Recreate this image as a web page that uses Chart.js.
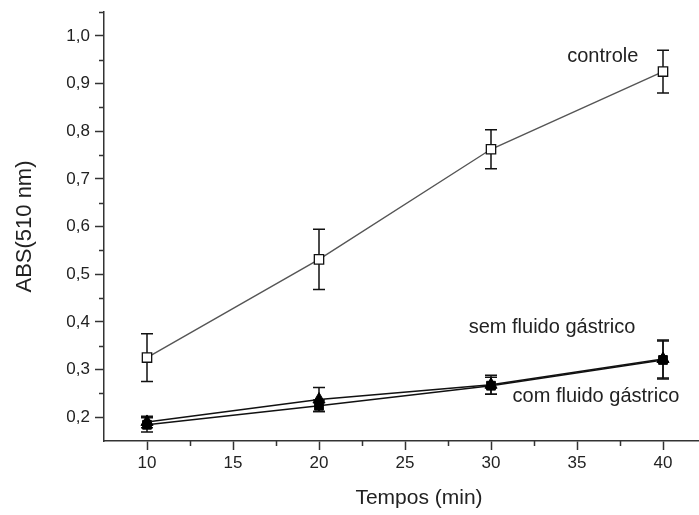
<!DOCTYPE html>
<html>
<head>
<meta charset="utf-8">
<script src="https://cdn.jsdelivr.net/npm/chart.js@4"></script>
<style>
  html, body { margin: 0; padding: 0; background: #fff; overflow: hidden; }
  #wrap { width: 699px; height: 515px; overflow: hidden; }
</style>
</head>
<body>
<div id="wrap"><canvas id="myChart" width="720" height="515"></canvas></div>
<script>
// data
var tempos = [10, 20, 30, 40];
var controle = [0.325, 0.531, 0.762, 0.925];
var controleErr = [0.050, 0.063, 0.041, 0.045];
var semFluido = [0.190, 0.237, 0.268, 0.322];
var semFluidoErr = [0.012, 0.025, 0.020, 0.040];
var comFluido = [0.184, 0.224, 0.266, 0.320];
var comFluidoErr = [0.015, 0.012, 0.018, 0.040];

var xTicks = [10, 15, 20, 25, 30, 35, 40];
var yTicks = [0.2, 0.3, 0.4, 0.5, 0.6, 0.7, 0.8, 0.9, 1.0];
var yTickLabels = ['0,2', '0,3', '0,4', '0,5', '0,6', '0,7', '0,8', '0,9', '1,0'];
var xMinor = [12.5, 17.5, 22.5, 27.5, 32.5, 37.5, 42.5];
var yMinor = [0.25, 0.35, 0.45, 0.55, 0.65, 0.75, 0.85, 0.95, 1.05];

var seriesNames = ['controle', 'sem fluido gástrico', 'com fluido gástrico'];
// where the text labels sit, in data units
var notePos = [[36.5, 0.956], [33.55, 0.388], [36.1, 0.243]];

var errs = [controleErr, semFluidoErr, comFluidoErr];
var textColor = '#222';

function pts(ys) {
    var out = [];
    for (let i = 0; i < tempos.length; i++) {
        out.push({x: tempos[i], y: ys[i]});
    }
    return out;
}

var errorBars = {
    id: 'errorBars',
    beforeDatasetsDraw(chart) {
        var ctx = chart.ctx, xs = chart.scales.x, ys = chart.scales.y;
        ctx.save();
        ctx.strokeStyle = '#111';
        ctx.lineWidth = 1.5;
        chart.data.datasets.forEach(function (ds, k) {
            ds.data.forEach(function (p, i) {
                var px = xs.getPixelForValue(p.x);
                var top = ys.getPixelForValue(p.y + errs[k][i]);
                var bot = ys.getPixelForValue(p.y - errs[k][i]);
                ctx.beginPath();
                ctx.moveTo(px, top); ctx.lineTo(px, bot);
                ctx.moveTo(px - 6, top); ctx.lineTo(px + 6, top);
                ctx.moveTo(px - 6, bot); ctx.lineTo(px + 6, bot);
                ctx.stroke();
            });
        });
        ctx.restore();
    },
    afterDraw(chart) {
        var ctx = chart.ctx, xs = chart.scales.x, ys = chart.scales.y;
        var area = chart.chartArea;
        ctx.save();
        // minor ticks
        ctx.strokeStyle = '#333';
        ctx.lineWidth = 1.5;
        ctx.beginPath();
        yMinor.forEach(function (v) {
            var py = Math.round(ys.getPixelForValue(v)) + 0.5;
            ctx.moveTo(area.left, py); ctx.lineTo(area.left - 5, py);
        });
        xMinor.forEach(function (v) {
            var px = Math.round(xs.getPixelForValue(v)) + 0.5;
            ctx.moveTo(px, area.bottom); ctx.lineTo(px, area.bottom + 5);
        });
        ctx.stroke();
        // series labels
        ctx.fillStyle = textColor;
        ctx.font = '20px "Liberation Sans", Arial, sans-serif';
        ctx.textAlign = 'center';
        ctx.textBaseline = 'middle';
        seriesNames.forEach(function (s, k) {
            ctx.fillText(s, xs.getPixelForValue(notePos[k][0]), ys.getPixelForValue(notePos[k][1]));
        });
        // x axis title
        ctx.font = '21px "Liberation Sans", Arial, sans-serif';
        ctx.fillText('Tempos (min)', 419, 498);
        ctx.restore();
    }
};

var ctx = document.getElementById('myChart').getContext('2d');
var myChart = new Chart(ctx, {
    type: 'line',
    data: {
        datasets: [{
            label: seriesNames[0],
            data: pts(controle),
            borderColor: '#555',
            borderWidth: 1.4,
            pointStyle: 'rect',
            pointRadius: 6.6,
            pointBackgroundColor: '#fff',
            pointBorderColor: '#111',
            pointBorderWidth: 1.3
        }, {
            label: seriesNames[1],
            data: pts(semFluido),
            borderColor: '#111',
            borderWidth: 1.5,
            pointStyle: 'triangle',
            pointRadius: 7,
            pointBackgroundColor: '#000',
            pointBorderColor: '#000',
            pointBorderWidth: 1
        }, {
            label: seriesNames[2],
            data: pts(comFluido),
            borderColor: '#111',
            borderWidth: 1.5,
            pointStyle: 'rect',
            pointRadius: 6.2,
            pointBackgroundColor: '#000',
            pointBorderColor: '#000',
            pointBorderWidth: 1
        }]
    },
    options: {
        responsive: false,
        animation: false,
        layout: { padding: { top: 12, right: 14, left: 0, bottom: 0 } },
        plugins: { legend: { display: false }, tooltip: { enabled: false } },
        elements: { line: { tension: 0 } },
        scales: {
            x: {
                type: 'linear',
                min: 7.5,
                max: 42.5,
                afterBuildTicks: function (s) { s.ticks = xTicks.map(function (v) { return {value: v}; }); },
                afterFit: function (s) { s.height = 74; s.paddingLeft = 0; s.paddingRight = 0; },
                grid: { display: true, drawOnChartArea: false, tickLength: 9, tickColor: '#333', tickWidth: 1.5 },
                border: { color: '#333', width: 1.5 },
                ticks: {
                    color: textColor,
                    padding: 3,
                    maxRotation: 0,
                    autoSkip: false,
                    font: { family: '"Liberation Sans", Arial, sans-serif', size: 17 },
                    callback: function (v) { return String(v); }
                }
            },
            y: {
                type: 'linear',
                min: 0.15,
                max: 1.05,
                afterBuildTicks: function (s) { s.ticks = yTicks.map(function (v) { return {value: v}; }); },
                afterFit: function (s) { s.width = 104; s.paddingTop = 0; s.paddingBottom = 0; },
                grid: { display: true, drawOnChartArea: false, tickLength: 9, tickColor: '#333', tickWidth: 1.5 },
                border: { color: '#333', width: 1.5 },
                title: {
                    display: true,
                    text: 'ABS(510 nm)',
                    color: textColor,
                    padding: { top: 12, bottom: 0 },
                    font: { family: '"Liberation Sans", Arial, sans-serif', size: 22 }
                },
                ticks: {
                    color: textColor,
                    padding: 5,
                    autoSkip: false,
                    font: { family: '"Liberation Sans", Arial, sans-serif', size: 17 },
                    callback: function (v, i) { return yTickLabels[i]; }
                }
            }
        }
    },
    plugins: [errorBars]
});
</script>
</body>
</html>
